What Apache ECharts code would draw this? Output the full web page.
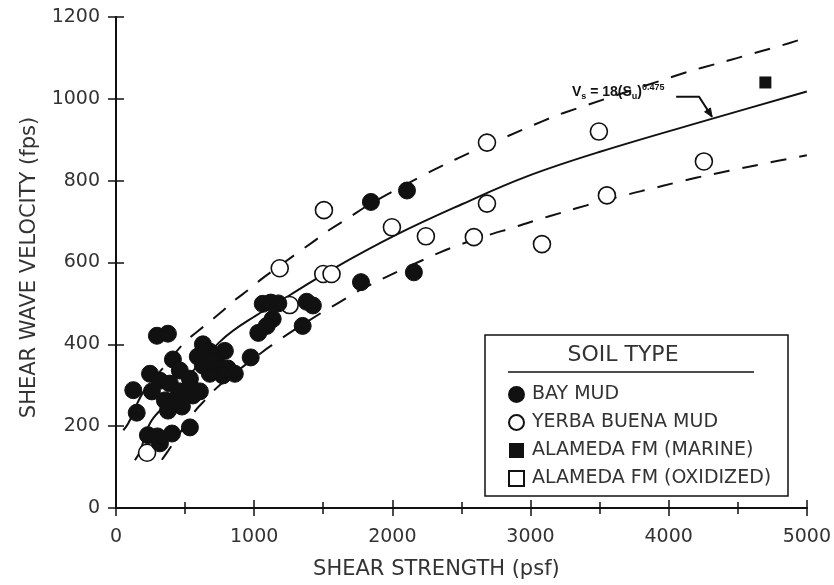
<!DOCTYPE html>
<html>
<head>
<meta charset="utf-8">
<script src="https://cdn.jsdelivr.net/npm/echarts@6/dist/echarts.min.js"></script>
<style>
  html, body { margin: 0; padding: 0; background: #fff; }
  #chart { width: 834px; height: 585px; }
</style>
</head>
<body>
<div id="chart"></div>
<script>
// Shear strength (psf) vs shear wave velocity (fps)
const bayMud = [
  [1845, 748], [2106, 776], [1773, 552], [2156, 576],
  [1062, 499], [1120, 502], [1175, 500], [1380, 504], [1425, 495],
  [1134, 462], [1091, 445], [1030, 428], [1351, 445], [975, 368],
  [296, 421], [376, 426], [125, 288], [150, 233], [412, 363], [246, 328],
  [629, 400], [592, 370], [679, 382], [788, 384], [730, 353], [629, 348],
  [809, 341], [860, 328], [773, 324], [679, 328], [700, 360],
  [318, 311], [390, 304], [462, 336], [535, 316], [549, 292], [462, 285],
  [260, 285], [354, 263], [441, 268], [556, 275], [607, 285], [376, 238], [477, 248],
  [535, 197], [231, 178], [405, 182], [318, 158], [300, 175]
];
const yerbaBuena = [
  [2685, 893], [3495, 920], [4255, 847], [3553, 764], [2685, 744], [1997, 686],
  [2243, 664], [2590, 662], [3083, 645], [1505, 728], [1185, 586], [1500, 572],
  [1560, 572], [1257, 496], [225, 135]
];
const alamedaMarine = [[4700, 1040]];
const alamedaOxidized = [];

// Fitted relation and its upper / lower bounds
const fitCurve = [
  [137, 117], [173, 138], [246, 207], [342, 247], [751, 406], [1053, 479],
  [1257, 520], [1568, 584], [2030, 668], [2507, 743], [2970, 810], [3497, 870],
  [4342, 954], [5000, 1018]
];
const upperBound = [
  [53, 190], [89, 207], [200, 285], [335, 340], [500, 406], [585, 430], [694, 460],
  [773, 482], [860, 508], [954, 532], [1055, 560], [1127, 578], [1308, 622],
  [1416, 648], [1546, 680], [1669, 706], [1850, 745], [2233, 815], [2341, 833],
  [2464, 853], [2572, 870], [3085, 945], [3244, 966], [4111, 1063], [4241, 1076],
  [4458, 1096], [4581, 1108], [4740, 1123], [4870, 1136], [5000, 1150]
];
const lowerBound = [
  [332, 118], [376, 139], [570, 236], [657, 268], [750, 300], [1062, 382], [1163, 406],
  [1257, 428], [1510, 482], [1604, 500], [1741, 528], [1813, 541], [1958, 565],
  [2052, 580], [2247, 610], [2341, 624], [2428, 636], [2543, 650], [2724, 670],
  [2861, 684], [3027, 702], [3136, 713], [3338, 733], [3475, 746], [3714, 767],
  [3858, 779], [4061, 796], [4198, 807], [4379, 820], [4494, 828], [4668, 840],
  [4783, 848], [5000, 862]
];

const legendNames = ['BAY MUD', 'YERBA BUENA MUD', 'ALAMEDA FM (MARINE)', 'ALAMEDA FM (OXIDIZED)'];
const xTitle = 'SHEAR STRENGTH (psf)';
const yTitle = 'SHEAR WAVE VELOCITY (fps)';
const legendTitle = 'SOIL TYPE';

const font = "'DejaVu Sans', 'Liberation Sans', sans-serif";
const ink = '#111';
const textInk = '#333';

const chart = echarts.init(document.getElementById('chart'), null, { renderer: 'canvas' });

const axisCommon = {
  type: 'value',
  axisLine: { show: true, lineStyle: { color: ink, width: 2 } },
  splitLine: { show: false }
};
const plainNumber = (v) => String(v);

function curve(data, dashed) {
  return {
    type: 'line', data: data, smooth: 0.4, showSymbol: false, silent: true,
    lineStyle: { color: ink, width: 2, type: dashed ? [16, 13] : 'solid' },
    z: 1
  };
}

const option = {
  backgroundColor: '#fff',
  animation: false,
  grid: { left: 116, right: 26, top: 17, bottom: 75 },
  xAxis: [
    Object.assign({}, axisCommon, {
      min: 0, max: 5000, interval: 1000, position: 'bottom',
      axisTick: { inside: true, length: 8, lineStyle: { color: ink, width: 1.5 } },
      minorTick: { show: true, splitNumber: 2, length: 6, lineStyle: { color: ink, width: 1.5 } },
      axisLabel: { fontSize: 19, color: textInk, fontFamily: font, margin: 20, formatter: plainNumber },
      name: xTitle, nameLocation: 'middle', nameGap: 51,
      nameTextStyle: { fontSize: 21, color: textInk, fontFamily: font, padding: [0, 50, 0, 0] }
    }),
    Object.assign({}, axisCommon, {
      min: 0, max: 5000, interval: 1000, position: 'top',
      axisTick: { inside: true, length: 8, lineStyle: { color: ink, width: 1.5 } },
      minorTick: { show: true, splitNumber: 2, length: 6, lineStyle: { color: ink, width: 1.5 } },
      axisLabel: { show: false }
    })
  ],
  yAxis: [
    Object.assign({}, axisCommon, {
      min: 0, max: 1200, interval: 200, position: 'left',
      axisTick: { inside: true, length: 8, lineStyle: { color: ink, width: 1.5 } },
      axisLabel: { fontSize: 19, color: textInk, fontFamily: font, margin: 16, formatter: plainNumber },
      name: yTitle, nameLocation: 'middle', nameGap: 76,
      nameTextStyle: { fontSize: 21, color: textInk, fontFamily: font, padding: [0, 10, 0, 0] }
    }),
    Object.assign({}, axisCommon, {
      min: 0, max: 1200, interval: 200, position: 'right',
      axisLine: { show: true, lineStyle: { color: ink, width: 1.5 } },
      axisTick: { inside: true, length: 8, lineStyle: { color: ink, width: 1.5 } },
      axisLabel: { show: false }
    })
  ],
  legend: {
    data: legendNames,
    orient: 'vertical',
    left: 503, top: 380, z: 30,
    itemWidth: 15, itemHeight: 15, itemGap: 9,
    selectedMode: false,
    textStyle: { fontSize: 19, color: textInk, fontFamily: font, padding: [0, 0, 0, 3] }
  },
  series: [
    curve(upperBound, true),
    curve(fitCurve, false),
    curve(lowerBound, true),
    {
      name: legendNames[1], type: 'scatter', data: yerbaBuena, symbol: 'circle', symbolSize: 17,
      itemStyle: { color: '#fff', borderColor: ink, borderWidth: 1.6, opacity: 1 }, z: 3
    },
    {
      name: legendNames[0], type: 'scatter', data: bayMud, symbol: 'circle', symbolSize: 17,
      itemStyle: { color: ink, borderColor: ink, borderWidth: 1, opacity: 1 }, z: 4
    },
    {
      name: legendNames[2], type: 'scatter', data: alamedaMarine, symbol: 'rect', symbolSize: 12,
      itemStyle: { color: ink, opacity: 1 }, z: 4
    },
    {
      name: legendNames[3], type: 'scatter', data: alamedaOxidized, symbol: 'rect', symbolSize: 12,
      itemStyle: { color: '#fff', borderColor: ink, borderWidth: 1.5, opacity: 1 }, z: 4
    }
  ]
};

chart.setOption(option);

// Legend frame, heading and the fitted-relation callout
const toPx = (p) => chart.convertToPixel({ gridIndex: 0 }, p);
const labelAt = toPx([3300, 1017]);
const a0 = toPx([4054, 1005]);
const a1 = toPx([4220, 1005]);
const a2 = toPx([4314, 956]);
const ang = Math.atan2(a2[1] - a1[1], a2[0] - a1[0]);
const head = 9, spread = 0.4;
const h1 = [a2[0] - head * Math.cos(ang - spread), a2[1] - head * Math.sin(ang - spread)];
const h2 = [a2[0] - head * Math.cos(ang + spread), a2[1] - head * Math.sin(ang + spread)];
const formulaFont = "'Liberation Sans', sans-serif";

chart.setOption({
  graphic: [
    {
      type: 'rect', z: 5, silent: true,
      shape: { x: 485, y: 335, width: 303, height: 161 },
      style: { fill: '#fff', stroke: ink, lineWidth: 1.5 }
    },
    {
      type: 'text', z: 11, silent: true, x: 623, y: 355,
      style: { text: legendTitle, fontSize: 22, fontFamily: font, fill: textInk, align: 'center', verticalAlign: 'middle' }
    },
    {
      type: 'line', z: 11, silent: true,
      shape: { x1: 508, y1: 372, x2: 754, y2: 372 },
      style: { stroke: ink, lineWidth: 1.5 }
    },
    {
      type: 'text', z: 11, silent: true, x: labelAt[0], y: labelAt[1],
      style: {
        text: '{v|V}{sub|s}{v| = 18(S}{sub|u}{v|)}{sup|0.475}',
        verticalAlign: 'middle', align: 'left',
        rich: {
          v: { fontSize: 14, fontWeight: 'bold', fontFamily: formulaFont, fill: ink, lineHeight: 18, verticalAlign: 'middle' },
          sub: { fontSize: 9, fontWeight: 'bold', fontFamily: formulaFont, fill: ink, lineHeight: 16, verticalAlign: 'bottom' },
          sup: { fontSize: 9, fontWeight: 'bold', fontFamily: formulaFont, fill: ink, lineHeight: 16, verticalAlign: 'top' }
        }
      }
    },
    {
      type: 'polyline', z: 11, silent: true,
      shape: { points: [a0, a1, a2] },
      style: { stroke: ink, lineWidth: 2, fill: null }
    },
    {
      type: 'polygon', z: 11, silent: true,
      shape: { points: [a2, h1, h2] },
      style: { fill: ink, stroke: ink, lineWidth: 1 }
    }
  ]
});
</script>
</body>
</html>
